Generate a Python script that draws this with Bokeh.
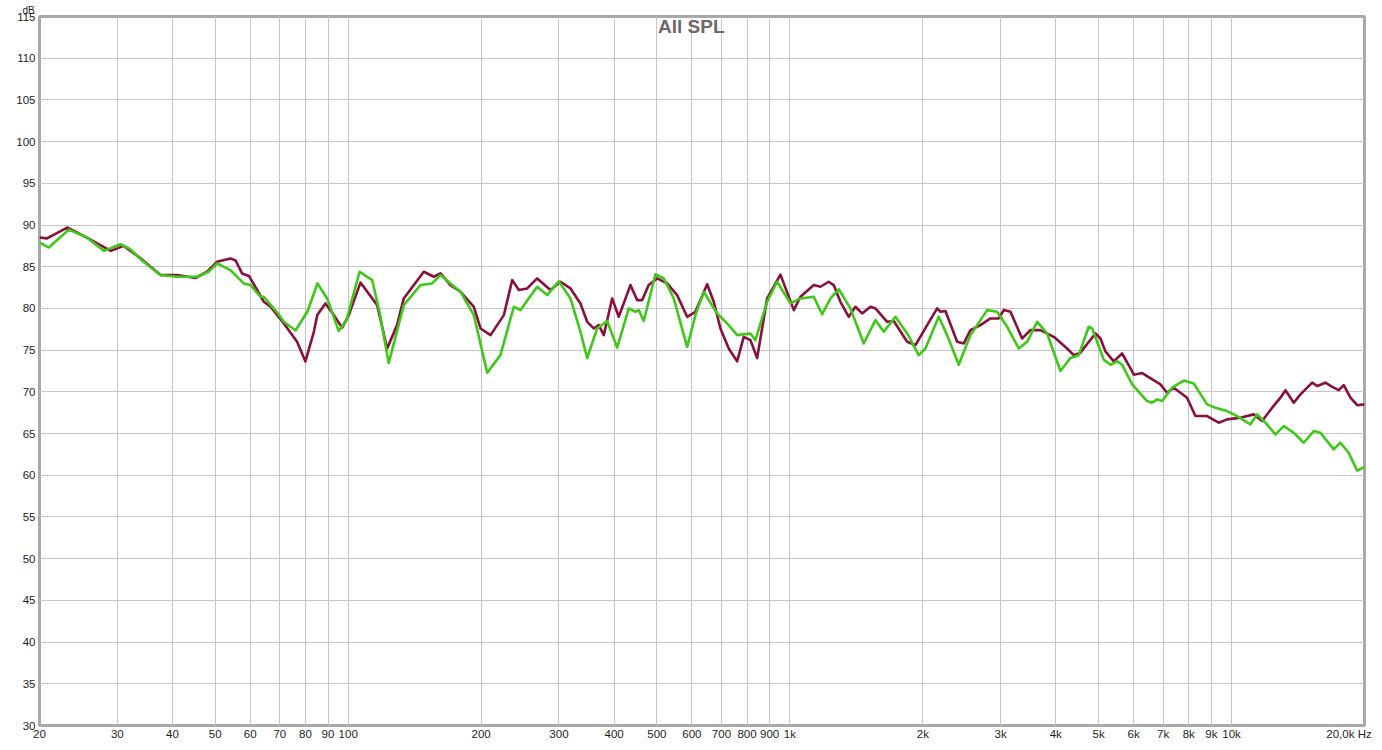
from bokeh.plotting import figure
from bokeh.models import FixedTicker, CustomJSTickFormatter, Label, Range1d, Title
from bokeh.embed import file_html
from bokeh.resources import INLINE

# ---- data (Hz, dB) ----
freq_red = [20, 20.8, 23.1, 25.6, 29.0, 31.0, 33.9, 37.6, 41.0, 45.1, 47.9, 50.5, 54.1, 55.6, 57.5, 59.6,
            64.4, 66.7, 71.5, 76.6, 80.0, 83.6, 85.1, 88.8, 92.0, 96.9, 100.3, 106.6, 116.3, 122.5, 129.0,
            133.6, 148.3, 156.2, 161.8, 170.4, 179.6, 192.5, 199.3, 210.0, 225.1, 235.1, 243.4, 254.3,
            267.8, 287.0, 302.4, 318.6, 335.6, 347.6, 359.7, 369.2, 379.0, 395.9, 409.8, 435.5, 451.1,
            463.0, 479.1, 500.6, 527.3, 555.5, 585.3, 611.2, 649.7, 672.4, 696.3, 727.1, 759.6, 786.2,
            814.1, 843.1, 888.2, 952.1, 1020.7, 1056.9, 1132.5, 1172.8, 1224.7, 1256.9, 1301.7, 1359.3,
            1407.4, 1457.6, 1522.1, 1562.1, 1660.7, 1718.7, 1843.1, 1924.7, 2045.6, 2155.0, 2192.6,
            2250.4, 2391.6, 2475.6, 2563.4, 2700.8, 2845.4, 2971.2, 3049.6, 3158, 3356, 3504, 3692, 3958,
            4243, 4392, 4547, 4918, 5049, 5181, 5410, 5652, 5902, 6006, 6274, 6902, 7146, 7398, 7930,
            8282, 8802, 9354, 9774, 10474, 11226, 11728, 12360, 12904, 13246, 13832, 14324, 15224,
            15626, 16316, 16900, 17490, 17950, 18588, 19246, 20000]
spl_red = [88.5, 88.4, 89.7, 88.5, 86.9, 87.5, 86.0, 84.0, 84.0, 83.65, 84.4, 85.6, 86.0, 85.75, 84.2, 83.9,
           80.8, 80.2, 78.2, 76.0, 73.65, 77.2, 79.2, 80.6, 79.5, 77.7, 79.2, 83.1, 80.4, 75.2, 78.0,
           81.2, 84.4, 83.8, 84.2, 82.8, 82.0, 80.2, 77.6, 76.8, 79.2, 83.4, 82.2, 82.4,
           83.6, 82.2, 83.2, 82.4, 80.6, 78.4, 77.6, 78.0, 76.8, 81.2, 79.0, 82.8, 81.0,
           81.0, 82.8, 83.6, 83.0, 81.6, 79.0, 79.6, 82.9, 80.8, 77.6, 75.2, 73.65, 76.6,
           76.2, 74.05, 81.2, 84.05, 79.8, 81.4, 82.8, 82.6, 83.2, 82.8, 80.8, 79.0,
           80.2, 79.4, 80.2, 80.0, 78.4, 78.5, 76.0, 75.6, 78.0, 80.0, 79.6,
           79.7, 76.0, 75.8, 77.4, 78.0, 78.8, 78.8, 79.8, 79.6, 76.4, 77.4, 77.4, 76.6,
           75.2, 74.4, 74.7, 77.0, 76.4, 74.85, 73.65, 74.6, 72.85, 72.05, 72.25, 70.9, 69.9, 70.5, 69.3,
           67.1, 67.1, 66.3, 66.7, 66.9, 67.3, 66.5, 68.1, 69.3, 70.2, 68.7, 69.7, 71.1,
           70.7, 71.1, 70.6, 70.2, 70.8, 69.3, 68.4, 68.5]

freq_green = [20, 21.0, 23.3, 25.6, 28.0, 30.5, 32.1, 34.4, 37.6, 41.0, 45.5, 48.3, 50.5, 54.1, 58.0, 60.1,
              63.3, 64.4, 69.1, 71.5, 76.0, 80.8, 85.2, 89.6, 95.2, 99.1, 106.1, 113.3, 117.7, 123.5,
              133.6, 145.8, 154.9, 161.8, 170.4, 179.6, 192.5, 206.4, 221.1, 237.1, 245.5, 267.8, 282.1,
              299.7, 318.6, 335.6, 347.6, 366.1, 385.7, 406.4, 431.7, 447.0, 454.9, 466.8, 496.2, 518.1,
              545.8, 585.3, 611.2, 638.3, 684.2, 727.1, 759.6, 814.1, 835.7, 888.2, 935.9, 1003.1,
              1056.9, 1132.5, 1183.1, 1235.8, 1290.1, 1371.3, 1469.7, 1562.1, 1631.5, 1733.9, 1843.1,
              1957.6, 2027.4, 2172.8, 2270.2, 2411.4, 2563.4, 2796.6, 2945.8, 3104.2, 3297, 3445, 3630,
              3824, 4097, 4317, 4508, 4750, 4835, 5136, 5318, 5508, 5652, 5956, 6440, 6608, 6786, 6964,
              7336, 7794, 8212, 8802, 9194, 9774, 10294, 11034, 11426, 11932, 12568, 13130, 13832,
              14570, 15348, 15894, 17034, 17636, 18414, 19246, 20000]
spl_green = [87.9, 87.3, 89.45, 88.5, 86.9, 87.7, 87.1, 85.6, 84.0, 83.8, 83.8, 84.4, 85.4, 84.6, 83.0, 82.8,
             81.4, 81.4, 79.5, 78.4, 77.35, 79.6, 83.0, 81.2, 77.3, 78.6, 84.4, 83.4, 79.6, 73.45,
             80.4, 82.8, 83.0, 84.0, 83.0, 82.0, 79.2, 72.3, 74.4, 80.2, 79.8, 82.6, 81.6,
             83.25, 81.2, 77.2, 74.05, 77.6, 78.5, 75.3, 80.0, 79.6, 79.8, 78.5, 84.1, 83.6,
             81.2, 75.4, 79.2, 82.0, 79.4, 78.0, 76.8, 77.0, 76.2, 80.8, 83.2, 80.6,
             81.2, 81.4, 79.3, 81.2, 82.3, 80.0, 75.8, 78.6, 77.2, 79.0, 77.0,
             74.4, 75.2, 79.0, 76.8, 73.25, 76.8, 79.8, 79.6, 77.8, 75.2, 76.0, 78.4,
             77.0, 72.5, 74.05, 74.4, 77.8, 77.6, 73.85, 73.25, 73.65, 73.25, 70.9, 68.9, 68.7, 69.1, 68.9,
             70.5, 71.35, 71.0, 68.5, 68.1, 67.7, 67.1, 66.1, 67.3, 66.3, 64.9, 65.9, 65.1,
             63.9, 65.3, 65.1, 63.1, 63.9, 62.7, 60.55, 61.0]

y_ticks = [30, 35, 40, 45, 50, 55, 60, 65, 70, 75, 80, 85, 90, 95, 100, 105, 110, 115]
x_grid_ticks = [30, 40, 50, 60, 70, 80, 90, 100, 200, 300, 400, 500, 600, 700, 800, 900,
                1000, 2000, 3000, 4000, 5000, 6000, 7000, 8000, 9000, 10000]
x_label_ticks = [20] + x_grid_ticks
x_end_label_pos = 18450          # where the "20,0k Hz" end label is centred
title_text = "All SPL"
y_unit_text = "dB"
x_end_text = "20,0k Hz"

FONT = "Liberation Sans"
LABEL_SIZE = "11.5px"
TEXT_COLOR = "#1e1e1e"

p = figure(width=1374, height=742, x_axis_type="log",
           x_range=Range1d(20, 20000), y_range=Range1d(30, 115),
           output_backend="svg", toolbar_location=None,
           min_border_left=39, min_border_right=10, min_border_top=16, min_border_bottom=10)

# the small "dB" unit text above the y labels
p.title = Title(text=y_unit_text, align="left", offset=-17, standoff=2,
                text_font=FONT, text_font_size="10px", text_font_style="normal",
                text_color=TEXT_COLOR)

p.background_fill_color = "white"
p.border_fill_color = "white"
p.outline_line_color = "#a9a9a9"
p.outline_line_width = 3

for ax in (p.xaxis[0], p.yaxis[0]):
    ax.axis_line_color = None
    ax.major_tick_line_color = None
    ax.minor_tick_line_color = None
    ax.major_tick_out = 0
    ax.major_tick_in = 0
    ax.major_label_text_font = FONT
    ax.major_label_text_font_size = LABEL_SIZE
    ax.major_label_text_color = TEXT_COLOR

p.yaxis.ticker = FixedTicker(ticks=y_ticks, minor_ticks=[])
p.yaxis.major_label_standoff = 4
p.xaxis.ticker = FixedTicker(ticks=x_label_ticks + [x_end_label_pos], minor_ticks=[])
p.xaxis.major_label_standoff = 2
p.xaxis.formatter = CustomJSTickFormatter(args=dict(end_pos=x_end_label_pos, end_text=x_end_text), code="""
if (Math.abs(tick - end_pos) < 1) return end_text;
if (tick >= 1000) return (tick/1000).toFixed(0) + 'k';
return tick.toFixed(0);
""")

p.xgrid.ticker = FixedTicker(ticks=x_grid_ticks, minor_ticks=[])
p.xgrid.grid_line_color = "#c6c6c6"
p.ygrid.grid_line_color = "#c6c6c6"
p.xgrid.grid_line_width = 1
p.ygrid.grid_line_width = 1

p.line(freq_red, spl_red, line_color="#8a0f3e", line_width=2.6, line_join="round")
p.line(freq_green, spl_green, line_color="#3ec818", line_width=2.6, line_join="round")

p.add_layout(Label(x=598, y=113.8, text=title_text, text_align="center", text_baseline="middle",
                   text_font=FONT, text_font_size="19px", text_font_style="bold",
                   text_color="#6e6668"))

open("out.html", "w").write(file_html(p, INLINE))
